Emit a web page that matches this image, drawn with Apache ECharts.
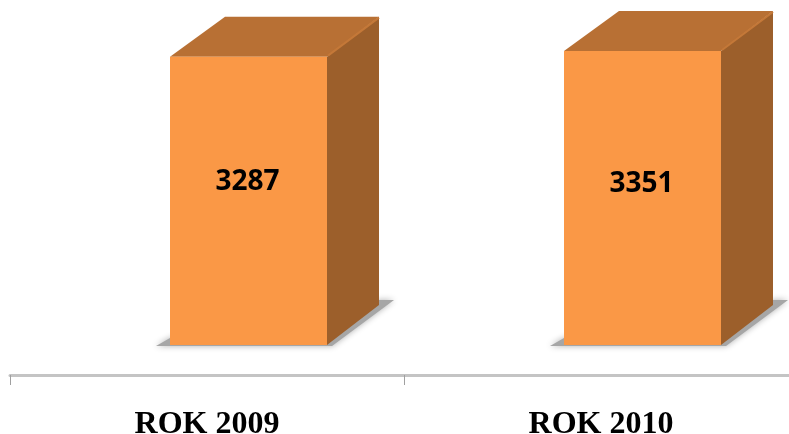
<!DOCTYPE html>
<html><head><meta charset="utf-8">
<style>html,body{margin:0;padding:0;background:#fff}#c{width:789px;height:434px}</style>
<script src="https://cdn.jsdelivr.net/npm/echarts@6/dist/echarts.min.js"></script>
</head><body><div id="c"></div>
<script>
const categories = ['ROK 2009', 'ROK 2010'];
const values = [3287, 3351];
const labelLift = [19, 14];   // px: label centre relative to bar-height rule, per bar

const FRONT = 157, DX = 52, DY = 40, SHIFT = 41.5;

function renderItem(params, api) {
  const v = api.value(1);
  const base = api.coord([api.value(0), 0]);
  const top = api.coord([api.value(0), v]);
  const l = base[0] + SHIFT - FRONT / 2, r = l + FRONT, b = base[1], t = top[1];
  const lift = labelLift[params.dataIndex];
  return {
    type: 'group',
    children: [
      { type: 'polygon', shape: { points: [[l - 14, b + 1], [l, b - 7], [r, b - 7], [r + 52, b - 45], [r + 67, b - 45], [r + 5, b + 1]] },
        style: { fill: '#a6a6a6', shadowBlur: 6, shadowColor: '#b0b0b0' } },
      { type: 'polygon', shape: { points: [[r, t], [r + DX, t - DY], [r + DX, b - DY], [r, b]] },
        style: { fill: '#9c5f2b' } },
      { type: 'polygon', shape: { points: [[l, t], [l + DX + 3, t - DY], [r + DX, t - DY], [r, t]] },
        style: { fill: '#b87034' } },
      { type: 'line', shape: { x1: r + 1, y1: t - 1, x2: r + DX, y2: t - DY + 1 },
        style: { stroke: '#c47838', lineWidth: 2 } },
      { type: 'rect', shape: { x: l, y: t, width: FRONT, height: b - t },
        style: { fill: '#fa9846' } },
      { type: 'text', x: (l + r) / 2 - 1, y: (t + b) / 2 - lift,
        style: { text: String(v), align: 'center', verticalAlign: 'middle', fill: '#000',
          font: 'bold 28px "Open Sans", sans-serif' } }
    ]
  };
}

const chart = echarts.init(document.getElementById('c'), null, { renderer: 'canvas' });
chart.setOption({
  animation: false,
  backgroundColor: '#fff',
  grid: { left: 10, top: 0, width: 788, height: 375, outerBoundsMode: 'none', containLabel: false },
  xAxis: {
    type: 'category', data: categories, boundaryGap: true,
    axisLine: { onZero: false, lineStyle: { color: '#c4c4c4', width: 3 } },
    axisTick: { show: true, length: 10, lineStyle: { color: '#a0a0a0', width: 1 } },
    axisLabel: { margin: 34, color: '#000', fontFamily: 'Liberation Serif', fontWeight: 'bold', fontSize: 32, interval: 0 }
  },
  yAxis: { type: 'value', min: -342, max: 3933, show: false, splitLine: { show: false } },
  series: [{
    type: 'custom', renderItem, clip: false,
    encode: { x: 0, y: 1 },
    data: categories.map((c, i) => [i, values[i]])
  }]
});
</script></body></html>
